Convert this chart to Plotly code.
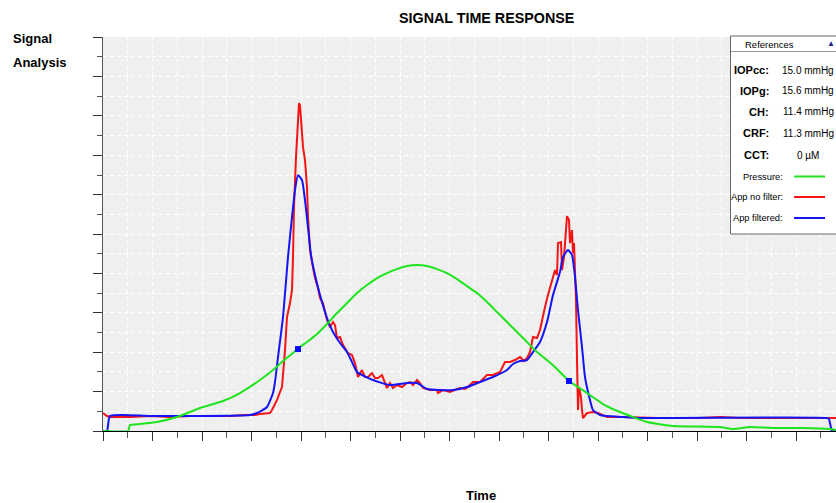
import plotly.graph_objects as go

# ---- Data (time in samples, signal in counts) ----
t_pressure = [0, 25, 27, 37, 54, 74, 97, 120, 137, 157, 170, 180, 190, 197, 204, 214, 224, 234,
              244, 254, 264, 274, 284, 294, 304, 314, 324, 334, 344, 354, 364, 374, 384, 394,
              404, 414, 424, 434, 444, 454, 466, 484, 500, 517, 544, 570, 617, 630, 647, 670,
              697, 727, 733]
pressure = [0, 0, 6, 7, 9, 14, 23, 30, 38, 51, 61, 70, 78, 84, 89, 97, 107, 118,
            128, 138, 146, 153, 158, 162, 165, 166, 165, 162, 158, 152, 145, 138, 129, 119,
            109, 99, 89, 79, 71, 62, 50, 38, 27, 19, 9, 5, 4, 2, 4, 3,
            3, 2, 1]

t_raw = [0, 4, 7, 27, 47, 67, 87, 112, 127, 142,
         152, 157, 167, 169, 174, 177, 179, 182, 184, 187,
         189, 190, 191, 193, 195, 196, 197, 198, 199, 200,
         202, 204, 205, 207, 209, 212, 215, 217, 220, 224,
         227, 230, 232, 234, 237, 240, 245, 249, 252, 255,
         259, 262, 265, 269, 272, 275, 279, 282, 284, 287,
         290, 294, 299, 304, 307, 310, 314, 317, 320, 327,
         334, 335, 340, 347, 352, 357, 362, 365, 370, 377,
         384, 390, 397, 402, 407, 412, 417, 421, 424, 427,
         430, 434, 437, 440, 442, 445, 447, 450, 452, 454,
         455, 458, 459, 461, 463, 464, 466, 467, 469, 470,
         471, 473, 474, 475, 476, 478, 479, 480, 484, 490,
         495, 504, 520, 554, 597, 617, 637, 677, 725, 733]
app_raw = [18, 15, 14, 14, 15, 14, 15, 15, 15, 16,
           16, 17, 18, 21, 31, 39, 44, 81, 114, 128,
           141, 174, 224, 274, 314, 328, 326, 308, 291, 284,
           271, 244, 214, 181, 169, 153, 143, 133, 128, 111,
           104, 109, 106, 93, 94, 86, 78, 76, 68, 54,
           61, 54, 54, 58, 53, 53, 56, 48, 43, 48,
           43, 46, 44, 48, 49, 46, 51, 48, 43, 41,
           41, 38, 41, 39, 41, 43, 42, 44, 49, 49,
           56, 56, 59, 69, 69, 71, 74, 70, 73, 79,
           94, 93, 101, 116, 124, 136, 144, 156, 161, 156,
           188, 189, 161, 174, 198, 215, 211, 188, 201, 178,
           188, 131, 71, 21, 44, 34, 21, 13, 18, 19,
           18, 14, 14, 13, 13, 14, 13, 13, 13, 13]

t_filt = [0, 4, 7, 47, 97, 147, 154, 164, 170, 172,
          175, 180, 185, 189, 192, 195, 199, 202, 205, 208,
          212, 217, 224, 230, 237, 244, 249, 254, 270, 287,
          304, 314, 324, 337, 350, 364, 377, 390, 404, 410,
          417, 424, 430, 437, 444, 450, 457, 460, 465, 469,
          472, 475, 479, 482, 487, 490, 497, 504, 520, 537,
          724, 726, 729, 733]
app_filt = [0, 0, 15, 15, 15, 16, 18, 24, 38, 49,
            74, 114, 174, 214, 241, 256, 251, 231, 204, 176,
            156, 136, 113, 99, 88, 79, 69, 59, 51, 46,
            48, 48, 42, 41, 41, 44, 49, 54, 61, 67,
            70, 71, 79, 89, 109, 136, 159, 174, 181, 176,
            154, 121, 84, 54, 31, 21, 16, 15, 14, 13,
            13, 12, 0, 0]

t_marks = [195, 466]
marks = [82, 50]

ref_labels = ["IOPcc:", "IOPg:", "CH:", "CRF:", "CCT:"]
ref_values = ["15.0 mmHg", "15.6 mmHg", "11.4 mmHg", "11.3 mmHg", "0 µM"]
series_names = ["Pressure:", "App no filter:", "App filtered:"]
series_colors = ["#1ee41e", "#f51414", "#1414f5"]

FONT = "Liberation Sans, Arial, sans-serif"
W, H = 836, 503
L, R, T, B = 103, 0, 37, 72
PW, PH = W - L - R, H - T - B


def px(x):
    return (x - L) / PW


def py(y):
    return (H - B - y) / PH


fig = go.Figure()
fig.add_trace(go.Scatter(x=t_raw, y=app_raw, mode="lines", name="App no filter",
                         line=dict(color=series_colors[1], width=2)))
fig.add_trace(go.Scatter(x=t_filt, y=app_filt, mode="lines", name="App filtered",
                         line=dict(color=series_colors[2], width=2, shape="spline", smoothing=0.5)))
fig.add_trace(go.Scatter(x=t_pressure, y=pressure, mode="lines", name="Pressure",
                         line=dict(color=series_colors[0], width=2, shape="spline", smoothing=0.4)))
fig.add_trace(go.Scatter(x=t_marks, y=marks, mode="markers",
                         marker=dict(symbol="square", size=6, color="#0a0aff")))

grid = dict(showgrid=True, gridcolor="#ffffff", gridwidth=1, griddash="4px,3px")

fig.update_xaxes(range=[0, 733], showticklabels=False, ticks="outside", tick0=0, dtick=49.5,
                 ticklen=9, tickcolor="#333", tickwidth=1, showline=True, linecolor="#000",
                 linewidth=1, zeroline=False, **grid,
                 minor=dict(dtick=24.75, tick0=0, ticklen=6, tickcolor="#555", ticks="outside",
                            **grid))
fig.update_yaxes(range=[0, 394.2], showticklabels=False, ticks="outside", tick0=0, dtick=39.4,
                 ticklen=9, tickcolor="#333", tickwidth=1, showline=True, linecolor="#555",
                 linewidth=1, zeroline=False, **grid,
                 minor=dict(dtick=19.7, tick0=0, ticklen=5, tickcolor="#555", ticks="outside",
                            **grid))

shapes = []
# references box
shapes.append(dict(type="rect", xref="paper", yref="paper", x0=px(730.5), x1=px(846),
                   y0=py(234), y1=py(36), fillcolor="#ffffff", line=dict(color="#666", width=1),
                   layer="above"))
shapes.append(dict(type="line", xref="paper", yref="paper", x0=px(731), x1=px(846),
                   y0=py(51.5), y1=py(51.5), line=dict(color="#999", width=1), layer="above"))
ann = []


def text(x, y, s, size, bold=False, xanchor="center", color="#000"):
    ann.append(dict(x=px(x), y=py(y), xref="paper", yref="paper", text=(f"<b>{s}</b>" if bold else s),
                    showarrow=False, xanchor=xanchor, yanchor="middle",
                    font=dict(family=FONT, size=size, color=color)))


text(486, 18, "SIGNAL TIME RESPONSE", 14.3, bold=True)
text(481, 495, "Time", 13, bold=True)
text(11, 38.5, "Signal", 13, bold=True, xanchor="left")
text(11, 63, "Analysis", 13, bold=True, xanchor="left")

text(769, 44, "References", 9.5)
text(831, 43, "▲", 8, color="#1a2a8a")
ref_y = [70, 91, 112, 133, 155]
for lab, val, yy in zip(ref_labels, ref_values, ref_y):
    text(770.5, yy, lab, 11, bold=True, xanchor="right")
    text(808, yy, val, 10)
ser_y = [176.5, 197, 218]
for nm, col, yy in zip(series_names, series_colors, ser_y):
    text(784.5, yy, nm, 9.3, xanchor="right")
    shapes.append(dict(type="line", xref="paper", yref="paper", x0=px(794), x1=px(825),
                       y0=py(yy), y1=py(yy), line=dict(color=col, width=2), layer="above"))

fig.update_layout(width=W, height=H, margin=dict(l=L, r=R, t=T, b=B, pad=0),
                  paper_bgcolor="#ffffff", plot_bgcolor="#efefef", showlegend=False,
                  font=dict(family=FONT), shapes=shapes, annotations=ann)

fig.write_html("out.html", config={"displayModeBar": False})
